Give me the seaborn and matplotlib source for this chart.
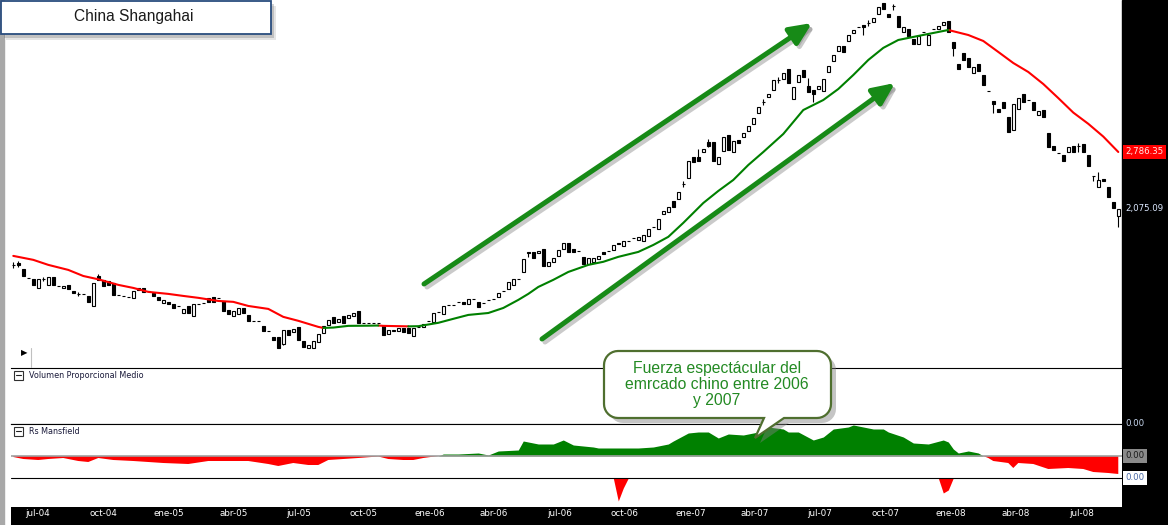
import numpy as np
import pandas as pd
import matplotlib
matplotlib.use("Agg")
import matplotlib.pyplot as plt
import matplotlib.dates as mdates
from matplotlib.patches import Rectangle, Polygon
from matplotlib.lines import Line2D
import seaborn as sns

# ---------------------------------------------------------------------------
# Datos (velas semanales del indice de Shanghai)
# ---------------------------------------------------------------------------
fechas = pd.date_range("2004-05-28", periods=222, freq="W-FRI")

apertura = [
    1549, 1565, 1517, 1448, 1440, 1374, 1440, 1396, 1455, 1389,
    1374, 1396, 1353, 1332, 1332, 1318, 1251, 1462, 1433, 1425,
    1410, 1325, 1318, 1311, 1305, 1374, 1374, 1353, 1339, 1311,
    1271, 1278, 1264, 1251, 1206, 1251, 1188, 1264, 1271, 1305,
    1311, 1305, 1284, 1226, 1188, 1200, 1238, 1194, 1158, 1158,
    1128, 1099, 1066, 1066, 1027, 1105, 1094, 1122, 1044, 1006,
    1006, 1038, 1088, 1134, 1182, 1152, 1188, 1176, 1188, 1219,
    1146, 1146, 1146, 1146, 1128, 1083, 1099, 1099, 1116, 1116,
    1072, 1122, 1122, 1158, 1152, 1213, 1200, 1258, 1258, 1278,
    1278, 1264, 1298, 1278, 1271, 1291, 1298, 1311, 1353, 1367,
    1396, 1440, 1493, 1657, 1657, 1648, 1683, 1541, 1574, 1623,
    1683, 1736, 1683, 1665, 1615, 1557, 1574, 1598, 1657, 1665,
    1674, 1736, 1709, 1755, 1782, 1764, 1755, 1801, 1888, 1868,
    2020, 2040, 2160, 2182, 2359, 2434, 2714, 2714, 2786, 2936,
    2936, 2617, 2800, 3044, 2786, 2966, 3014, 3108, 3223, 3412,
    3614, 3709, 3846, 4052, 4073, 4290, 3670, 4010, 4268, 3926,
    3846, 3866, 3826, 4224, 4472, 4712, 4836, 4963, 5174, 5337,
    5393, 5449, 5478, 5713, 6047, 5713, 5955, 5651, 5202, 5282,
    5015, 4887, 5202, 4861, 5282, 5282, 5393, 5507, 4938, 4404,
    4664, 4542, 4202, 4404, 4158, 3826, 3632, 3484, 3614, 3343,
    3124, 3484, 3767, 3651, 3614, 3378, 3466, 3076, 2875, 2771,
    2743, 2786, 2875, 2875, 2905, 2743, 2459, 2323, 2421, 2323,
    2149, 1995,
]
cierre = [
    1549, 1549, 1462, 1448, 1396, 1440, 1440, 1455, 1396, 1389,
    1389, 1367, 1339, 1332, 1332, 1278, 1410, 1433, 1389, 1396,
    1325, 1325, 1318, 1311, 1353, 1360, 1346, 1353, 1318, 1291,
    1291, 1264, 1238, 1251, 1232, 1206, 1264, 1264, 1271, 1278,
    1278, 1305, 1219, 1200, 1219, 1238, 1206, 1158, 1158, 1158,
    1099, 1099, 1049, 1006, 1105, 1077, 1111, 1049, 1011, 1022,
    1044, 1083, 1128, 1164, 1146, 1170, 1146, 1194, 1206, 1146,
    1146, 1146, 1146, 1146, 1077, 1105, 1105, 1116, 1094, 1088,
    1116, 1122, 1140, 1158, 1206, 1213, 1251, 1258, 1258, 1278,
    1264, 1298, 1298, 1245, 1271, 1291, 1298, 1339, 1353, 1418,
    1440, 1440, 1598, 1648, 1606, 1665, 1541, 1574, 1606, 1674,
    1736, 1657, 1657, 1665, 1557, 1606, 1606, 1623, 1640, 1665,
    1718, 1727, 1755, 1755, 1782, 1792, 1810, 1868, 1888, 1967,
    2050, 2093, 2093, 2264, 2359, 2662, 2647, 2660, 2830, 2875,
    2660, 2714, 3014, 2815, 2951, 2920, 3076, 3190, 3325, 3523,
    3614, 3767, 4052, 4052, 4202, 3989, 3906, 4158, 4115, 3806,
    3767, 3926, 4073, 4358, 4614, 4836, 4688, 5120, 5255, 5337,
    5337, 5449, 5593, 5925, 5861, 5622, 5955, 5337, 5337, 5095,
    4887, 5095, 5202, 5120, 5282, 5365, 5478, 5202, 4788, 4290,
    4496, 4336, 4336, 4246, 3947, 3826, 3577, 3430, 3503, 3092,
    3577, 3690, 3614, 3651, 3466, 3448, 3343, 2860, 2815, 2771,
    2660, 2860, 2786, 2875, 2786, 2590, 2459, 2409, 2397, 2205,
    2082, 2075.09,
]

# mechas visibles (solo las velas donde se distinguen)
mecha_idx = [0, 1, 6, 13, 17, 54, 103, 134, 137, 139, 150, 153, 159, 160,
             170, 171, 176, 188, 196, 213, 216, 217, 221]
mecha_max = [1573, 1582, 1455, 1346, 1478, 1105, 1657, 2396, 2830, 2981, 3670,
             4115, 4094, 3846, 5393, 5535, 6015, 4938, 3632, 2920, 2459, 2509, 2075]
mecha_min = [1525, 1533, 1425, 1318, 1433, 1022, 1615, 2323, 2660, 2860, 3558,
             3989, 3806, 3614, 5120, 5365, 5830, 4590, 3420, 2786, 2396, 2323, 1888]

# media movil de 30 semanas (rojo baja / verde sube)
mm30_idx = [0, 4, 7, 11, 14, 17, 21, 24, 27, 31, 34, 37, 41, 44, 47, 51, 54, 57,
            61, 62, 64, 67, 71, 73, 74, 79, 81, 85, 88, 91, 95, 98, 101, 103,
            105, 108, 111, 115, 118, 121, 125, 128, 131, 134, 138, 141, 144,
            147, 150, 154, 158, 162, 165, 168, 171, 174, 177, 181, 184, 187,
            191, 194, 197, 200, 203, 206, 209, 212, 215, 218, 221]
mm30_val = [1623, 1590, 1549, 1509, 1462, 1437, 1396, 1374, 1346, 1332, 1318,
            1305, 1284, 1278, 1251, 1232, 1182, 1158, 1122, 1116, 1118, 1128,
            1129, 1130, 1128, 1125, 1126, 1146, 1170, 1194, 1206, 1238, 1291,
            1332, 1381, 1433, 1493, 1549, 1574, 1615, 1657, 1718, 1792, 1927,
            2137, 2275, 2409, 2604, 2786, 3060, 3466, 3651, 3866, 4158, 4496,
            4788, 4989, 5095, 5174, 5255, 5120, 4963, 4688, 4426, 4224, 3968,
            3688, 3420, 3226, 3019, 2786.35]

# Rs Mansfield
rs_idx = [0, 2, 5, 7, 10, 13, 15, 17, 20, 24, 30, 35, 39, 47, 51, 53, 56, 59,
          61, 63, 66, 69, 73, 75, 78, 80, 82, 85, 86, 89, 93, 95, 97, 101, 102,
          105, 108, 110, 112, 116, 117, 125, 128, 131, 132, 135, 137, 139, 141,
          143, 146, 149, 151, 154, 155, 157, 160, 162, 164, 167, 168, 170, 172,
          174, 175, 178, 180, 183, 186, 187, 188, 189, 191, 193, 194, 195, 196,
          199, 200, 201, 204, 207, 211, 214, 216, 219, 221]
rs_val = [-0.0001, -0.0003, -0.0004, -0.0003, -0.0002, -0.0005, -0.0006, -0.0002,
          -0.0004, -0.0005, -0.0007, -0.0008, -0.0005, -0.0005, -0.0008, -0.0010,
          -0.0007, -0.0009, -0.0009, -0.0004, -0.0003, -0.0002, -0.00005, -0.0003,
          -0.0004, -0.0004, -0.0002, 0.0, 0.0002, 0.0002, 0.0003, 0.0001, 0.0005,
          0.0006, 0.0015, 0.0012, 0.0012, 0.0016, 0.0011, 0.0009, 0.0008, 0.0008,
          0.0009, 0.0012, 0.0015, 0.0023, 0.0024, 0.0024, 0.0018, 0.0022, 0.0021,
          0.0024, 0.0029, 0.0027, 0.0024, 0.0024, 0.0016, 0.0019, 0.0027, 0.0029,
          0.0031, 0.0029, 0.0027, 0.0027, 0.0024, 0.0019, 0.0013, 0.0012, 0.0016,
          0.0014, 0.0007, 0.0003, 0.0005, 0.0003, 0.0, -0.0002, -0.0005, -0.0007,
          -0.0012, -0.0007, -0.0008, -0.0013, -0.0012, -0.0013, -0.0016, -0.0017,
          -0.0018]
rs_sup = 0.0032
rs_inf = -0.0022
picos_idx = [120, 121, 122, 123, 185, 186, 187, 188]
picos_val = [-0.0022, -0.0045, -0.0032, -0.0022, -0.0022, -0.0037, -0.0034, -0.0022]

meses = ["2004-07-01", "2004-10-01", "2005-01-01", "2005-04-01", "2005-07-01",
         "2005-10-01", "2006-01-01", "2006-04-01", "2006-07-01", "2006-10-01",
         "2007-01-01", "2007-04-01", "2007-07-01", "2007-10-01", "2008-01-01",
         "2008-04-01", "2008-07-01"]
meses_txt = ["jul-04", "oct-04", "ene-05", "abr-05", "jul-05", "oct-05", "ene-06",
             "abr-06", "jul-06", "oct-06", "ene-07", "abr-07", "jul-07", "oct-07",
             "ene-08", "abr-08", "jul-08"]

titulo = "China Shangahai"
nota = "Fuerza espectácular del\nemrcado chino entre 2006\ny 2007"

# ---------------------------------------------------------------------------
W, H = 1168, 525
IZQ, DER = 11, 1122
VERDE, ROJO = "#008000", "#ff0000"


def px(x, y):
    return x / W, 1 - y / H


def caja(y_top, y_bot):
    return [IZQ / W, 1 - y_bot / H, (DER - IZQ) / W, (y_bot - y_top) / H]


sns.set_theme(style="white")
plt.rcParams["font.family"] = ["DejaVu Sans"]

fig = plt.figure(figsize=(W / 100, H / 100), dpi=100)
fig.patch.set_facecolor("white")

ax_p = fig.add_axes(caja(0, 368))
ax_v = fig.add_axes(caja(368, 424), sharex=ax_p)
ax_rs = fig.add_axes(caja(424, 507), sharex=ax_p)
ax_f = fig.add_axes(caja(507, 525), sharex=ax_p)

xs = mdates.date2num(fechas)

# ---- velas ----
ap = np.array(apertura, dtype=float)
ci = np.array(cierre, dtype=float)
ax_p.set_yscale("log")
ax_p.vlines(xs[mecha_idx], mecha_min, mecha_max, color="black", lw=0.8, zorder=2)
ax_p.bar(xs, np.abs(ci - ap), bottom=np.minimum(ap, ci), width=3.6,
         color=np.where(ci >= ap, "white", "black"), edgecolor="black",
         linewidth=0.8, zorder=3)

# ---- media movil coloreada por tramos ----
mx = xs[mm30_idx]
mv = np.array(mm30_val)
filas, tramo, prev = [], 0, None
for k in range(len(mv) - 1):
    sentido = "sube" if mv[k + 1] > mv[k] else "baja"
    if sentido != prev:
        tramo += 1
        filas.append((mx[k], mv[k], tramo, sentido))
        prev = sentido
    filas.append((mx[k + 1], mv[k + 1], tramo, sentido))
df_mm = pd.DataFrame(filas, columns=["x", "valor", "tramo", "sentido"])
sns.lineplot(data=df_mm, x="x", y="valor", hue="sentido", units="tramo",
             estimator=None, sort=False, palette={"sube": VERDE, "baja": ROJO},
             legend=False, linewidth=1.5, ax=ax_p, zorder=4)

ax_p.set_xlim(xs[0] - 3.2, xs[0] + 1552.2)
ax_p.set_ylim(906, 6142)
ax_p.set_axis_off()

# flechas verdes
def flecha(p0, p1):
    def fr(p):
        return ((p[0] - IZQ) / (DER - IZQ), 1 - p[1] / 368)
    estilo = "-|>,head_length=1.1,head_width=0.5"
    for dx, col, al in [(3, "#8a8a8a", 0.45), (0, "#178a17", 1.0)]:
        a = fr((p0[0] + dx, p0[1] + dx))
        b = fr((p1[0] + dx, p1[1] + dx))
        ax_p.annotate("", xy=b, xytext=a, xycoords="axes fraction",
                      textcoords="axes fraction", annotation_clip=False,
                      arrowprops=dict(arrowstyle=estilo, mutation_scale=12,
                                      lw=3.6, color=col, alpha=al,
                                      shrinkA=0, shrinkB=0), zorder=6)


flecha((424, 284), (812, 23))
flecha((542, 339), (895, 83))

# etiquetas de precio a la derecha
ax_p.annotate(f"{mm30_val[-1]:,.2f}", xy=(1, mm30_val[-1]),
              xycoords=("axes fraction", "data"), xytext=(2.5, 0),
              textcoords="offset points", ha="left", va="center", fontsize=6.2,
              color="#ffe8e8", annotation_clip=False,
              bbox=dict(boxstyle="square,pad=0.25", fc=ROJO, ec="none"))
ax_p.annotate(f"{cierre[-1]:,.2f}", xy=(1, cierre[-1]),
              xycoords=("axes fraction", "data"), xytext=(2.5, 0),
              textcoords="offset points", ha="left", va="center", fontsize=6.2,
              color="#dce8ff", annotation_clip=False)

# ---- panel volumen (vacio) ----
ax_v.set_facecolor("white")
ax_v.set_xticks([])
ax_v.set_yticks([])
for lado in ["left", "right"]:
    ax_v.spines[lado].set_visible(False)
for lado in ["top", "bottom"]:
    ax_v.spines[lado].set_color("black")
    ax_v.spines[lado].set_linewidth(0.8)

# ---- panel Rs Mansfield ----
rx = xs[rs_idx]
rv = np.array(rs_val)
ax_rs.fill_between(rx, rv, 0, where=rv >= 0, interpolate=True, color=VERDE, lw=0)
ax_rs.fill_between(rx, rv, 0, where=rv <= 0, interpolate=True, color=ROJO, lw=0)
ax_rs.fill_between(xs[picos_idx], picos_val, rs_inf, color=ROJO, lw=0)
ax_rs.axhline(0, color="#a0a0a0", lw=1.2)
ax_rs.axhline(rs_inf, color="black", lw=0.8)
ax_rs.set_ylim(-0.0051, rs_sup)
ax_rs.set_xticks([])
ax_rs.set_yticks([])
for lado in ["left", "right", "bottom"]:
    ax_rs.spines[lado].set_visible(False)
ax_rs.spines["top"].set_color("black")
ax_rs.spines["top"].set_linewidth(0.8)

for v, fc, tc in [(rs_sup, "none", "#c8d8f0"), (0, "#8a8a8a", "#1a1a1a"),
                  (rs_inf, "white", "#4a6aa8")]:
    ax_rs.annotate(f"{abs(v):.2f}", xy=(1, v), xycoords=("axes fraction", "data"),
                   xytext=(2.5, 0), textcoords="offset points", ha="left",
                   va="center", fontsize=6.2, color=tc, annotation_clip=False,
                   bbox=dict(boxstyle="square,pad=0.25", fc=fc, ec="none"))

# ---- franja de fechas ----
ax_f.set_facecolor("black")
ax_f.set_xticks([])
ax_f.set_yticks([])
for s in ax_f.spines.values():
    s.set_visible(False)
for d, t in zip(mdates.date2num(pd.to_datetime(meses)), meses_txt):
    ax_f.text(d, 0.62, t, transform=ax_f.get_xaxis_transform(), ha="center",
              va="center", fontsize=6.3, color="white")

for a in (ax_p, ax_v, ax_rs):
    a.set_xlabel("")
    a.set_ylabel("")

# ---- marco de la ventana ----
fig.add_artist(Rectangle((DER / W, 0), 1 - DER / W, 1,
                         transform=fig.transFigure, color="black", zorder=-1))
fig.add_artist(Rectangle((0, 0), 3.5 / W, 1, transform=fig.transFigure,
                         color="#a8a8a8", zorder=-1))

# iconos y rotulos de paneles
for y_ic, rot in [(371, "Volumen Proporcional Medio"), (427, "Rs Mansfield")]:
    fig.add_artist(Rectangle(px(13.5, y_ic + 8.5), 9 / W, 8.5 / H,
                             transform=fig.transFigure, fc="white",
                             ec="#303030", lw=0.8, zorder=5))
    fig.add_artist(Line2D([15.5 / W, 21 / W], [1 - (y_ic + 4.3) / H] * 2,
                          transform=fig.transFigure, color="#202020", lw=0.8,
                          zorder=6))
    fig.text(*px(29, y_ic + 4.5), rot, fontsize=5.8, color="#1a1a3a",
             ha="left", va="center")

fig.text(*px(24, 353), "▶", fontsize=6, color="black", ha="center", va="center")
fig.add_artist(Line2D([31 / W, 31 / W], [1 - 348 / H, 1 - 367 / H],
                      transform=fig.transFigure, color="#c0c0c0", lw=0.8))

# caja del titulo con sombra
for dx, al in [(6, 0.18), (4, 0.3)]:
    fig.add_artist(Rectangle(px(dx, 34 + dx), 270 / W, 34 / H,
                             transform=fig.transFigure, color="#707070",
                             alpha=al, lw=0, zorder=5))
fig.add_artist(Rectangle(px(0.5, 34), 270 / W, 33.5 / H, transform=fig.transFigure,
                         fc="white", ec="#2a4d7e", lw=1.3, zorder=6))
fig.text(*px(134, 16.5), titulo, fontsize=11.2, family="Liberation Sans",
         color="#1a1a1a", ha="center", va="center", zorder=7)


# globo de comentario
def globo(x0, y0, x1, y1, r, cola):
    pts = []

    def arco(cx, cy, a0, a1):
        for a in np.linspace(a0, a1, 9):
            pts.append((cx + r * np.cos(a), cy + r * np.sin(a)))

    arco(x0 + r, y0 + r, np.pi, 1.5 * np.pi)
    arco(x1 - r, y0 + r, 1.5 * np.pi, 2 * np.pi)
    arco(x1 - r, y1 - r, 0, 0.5 * np.pi)
    xa, xb, xt, yt = cola
    pts += [(xb, y1), (xt, yt), (xa, y1)]
    arco(x0 + r, y1 - r, 0.5 * np.pi, np.pi)
    return pts


contorno = globo(604, 351, 831, 418, 14, (764, 784, 755, 438))
fig.add_artist(Polygon([px(x + 5, y + 5) for x, y in contorno], closed=True,
                       transform=fig.transFigure, fc="#808080", ec="none",
                       alpha=0.45, zorder=5))
fig.add_artist(Polygon([px(x, y) for x, y in contorno], closed=True,
                       transform=fig.transFigure, fc="white", ec="#4f6f2f",
                       lw=1.6, zorder=6))
fig.text(*px(717, 384.5), nota, fontsize=11.3, family="Liberation Sans",
         color="#238a23", ha="center", va="center", linespacing=1.1, zorder=7)

fig.savefig("out.png", dpi=100, facecolor="white")
